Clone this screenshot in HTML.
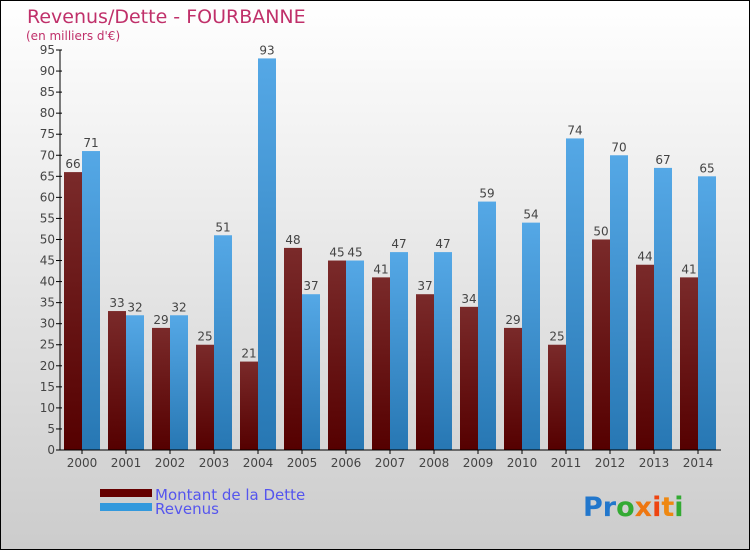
<!DOCTYPE html>
<html><head><meta charset="utf-8"><style>
body{margin:0}
#c{width:750px;height:550px;position:relative;font-family:"DejaVu Sans","Liberation Sans",sans-serif;}
</style></head><body>
<div id="c">
<svg width="750" height="550" xmlns="http://www.w3.org/2000/svg" id="svg">
<defs>
<linearGradient id="bg" x1="0" y1="0" x2="0" y2="1"><stop offset="0" stop-color="#ffffff"/><stop offset="1" stop-color="#cccccc"/></linearGradient>
<linearGradient id="gd" x1="0" y1="0" x2="0" y2="1"><stop offset="0" stop-color="#7a2a2a"/><stop offset="1" stop-color="#550000"/></linearGradient>
<linearGradient id="gr" x1="0" y1="0" x2="0" y2="1"><stop offset="0" stop-color="#55a8e6"/><stop offset="1" stop-color="#2777b3"/></linearGradient>
</defs>
<rect x="0.5" y="0.5" width="749" height="549" fill="url(#bg)" stroke="#000"/>
<text x="27" y="23" font-size="19" fill="#c0306a">Revenus/Dette - FOURBANNE</text>
<text x="26" y="40" font-size="12" fill="#c0306a">(en milliers d'€)</text>
<g id="plot"></g>
<rect x="100" y="489" width="52" height="8" fill="#660000"/>
<rect x="100" y="503" width="52" height="8" fill="#3399dd"/>
<text x="155" y="500" font-size="15" fill="#5555ee">Montant de la Dette</text>
<text x="155" y="514" font-size="15" fill="#5555ee">Revenus</text>
<text x="583" y="516" font-size="27" font-weight="bold"><tspan fill="#2277cc">Pr</tspan><tspan fill="#33aa33">o</tspan><tspan fill="#ee7711">x</tspan><tspan fill="#ee4411">i</tspan><tspan fill="#ee8811">t</tspan><tspan fill="#33aa33">i</tspan></text>
</svg>
</div>
<script>
const years=["2000","2001","2002","2003","2004","2005","2006","2007","2008","2009","2010","2011","2012","2013","2014"];
const dette=[66,33,29,25,21,48,45,41,37,34,29,25,50,44,41];
const revenus=[71,32,32,51,93,37,45,47,47,59,54,74,70,67,65];
const yTicks=[0,5,10,15,20,25,30,35,40,45,50,55,60,65,70,75,80,85,90,95];
const NS="http://www.w3.org/2000/svg";
const g=document.getElementById('plot');
const x0=60,y0=450,yTop=50,gw=44,bw=18;
const y=v=>y0-(v/95)*(y0-yTop);
function mk(t,a){const e=document.createElementNS(NS,t);for(const k in a)e.setAttribute(k,a[k]);g.appendChild(e);return e;}
years.forEach((yr,i)=>{
  const gx=x0+4+gw*i;
  const r1=mk('rect',{x:gx,y:y(dette[i]),width:bw,height:y0-y(dette[i]),fill:'url(#gd)'});
  
  
  const r2=mk('rect',{x:gx+bw,y:y(revenus[i]),width:bw,height:y0-y(revenus[i]),fill:'url(#gr)'});
  
  
  const t1=mk('text',{x:gx+bw/2,y:y(dette[i])-4,'font-size':12,fill:'#444','text-anchor':'middle'});t1.textContent=dette[i];
  
  
  const t2=mk('text',{x:gx+bw*1.5,y:y(revenus[i])-4,'font-size':12,fill:'#444','text-anchor':'middle'});t2.textContent=revenus[i];
  
  
  const tl=mk('text',{x:gx+bw,y:467,'font-size':12,fill:'#444','text-anchor':'middle'});tl.textContent=yr;
  
  
  const tk=mk('line',{x1:gx+bw,x2:gx+bw,y1:450,y2:454,stroke:'#000'});
  
  
});
yTicks.forEach(v=>{
  const l=mk('line',{x1:56,x2:62,y1:y(v),y2:y(v),stroke:'#000'});
  
  
  const t=mk('text',{x:55,y:y(v)+4,'font-size':12,fill:'#444','text-anchor':'end'});t.textContent=v;
  
  
});
const ya=mk('line',{x1:60,x2:60,y1:yTop,y2:y0,stroke:'#000'});


const xa=mk('line',{x1:60,x2:x0+gw*years.length+1,y1:y0,y2:y0,stroke:'#000'});


</script>
</body></html>
